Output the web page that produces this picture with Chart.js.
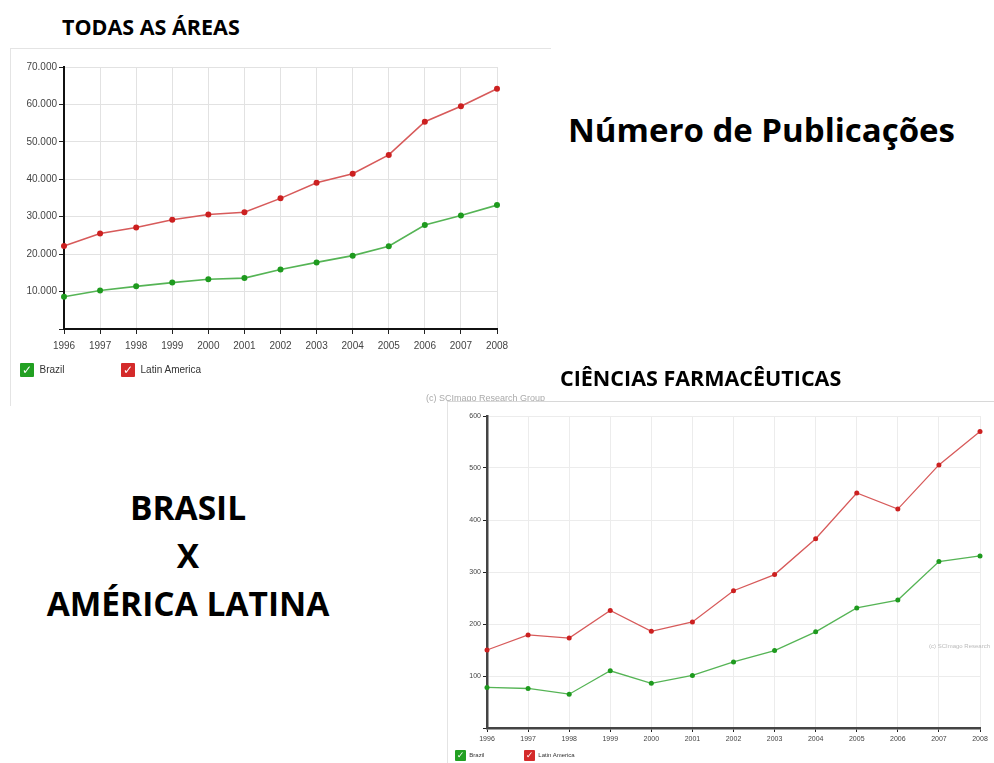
<!DOCTYPE html>
<html>
<head>
<meta charset="utf-8">
<script src="https://cdn.jsdelivr.net/npm/chart.js@4.4.0/dist/chart.umd.min.js"></script>
<style>
  body { margin: 0; width: 994px; height: 763px; background: #fff; position: relative; overflow: hidden; font-family: "Open Sans", "Noto Sans", sans-serif; }
  .title { position: absolute; font-weight: bold; color: #000; white-space: nowrap; line-height: 1; }
  .box { position: absolute; background: #fff; }
  #box1 { left: 10px; top: 48px; width: 540px; height: 357px; border-top: 1px solid #e4e4e4; border-left: 1px solid #e4e4e4; }
  #box2 { left: 447px; top: 401px; width: 547px; height: 362px; border-top: 1px solid #d8d8d8; border-left: 1px solid #e4e4e4; }
  .legend { position: absolute; font-family: "Liberation Sans", Arial, sans-serif; color: #333; }
  .legend span.item { position: absolute; white-space: nowrap; }
  .chk { display: inline-block; text-align: center; color: #fff; font-family: "DejaVu Sans", sans-serif; font-weight: bold; vertical-align: middle; border-radius: 1px; }
  .copy { position: absolute; font-family: "Liberation Sans", Arial, sans-serif; color: #aaa; white-space: nowrap; }
</style>
</head>
<body>

<div class="title" style="left:62px; top:16px; font-size:21.5px;">TODAS AS ÁREAS</div>
<div class="title" style="left:568px; top:113px; font-size:33px;">Número de Publicações</div>
<div class="title" style="left:0; width:376px; text-align:center; top:483px; font-size:33.5px; line-height:48px;">BRASIL<br>X<br>AMÉRICA LATINA</div>

<div class="box" id="box1">
  <canvas id="chartAll"></canvas>
  <div class="legend" style="left:0; top:0; font-size:10px;">
    <span class="item" style="left:9px; top:314px;"><span class="chk" style="width:14px;height:14px;line-height:14px;font-size:12px;background:#22a022;">✓</span>&nbsp;&nbsp;Brazil</span>
    <span class="item" style="left:110px; top:314px;"><span class="chk" style="width:14px;height:14px;line-height:14px;font-size:12px;background:#d42a2a;">✓</span>&nbsp;&nbsp;Latin America</span>
  </div>
  <div class="copy" style="left:415px; top:344px; font-size:9px;">(c) SCImago Research Group</div>
</div>

<div class="title" style="left:560px; top:367px; font-size:21.5px;">CIÊNCIAS FARMACÊUTICAS</div>

<div class="box" id="box2">
  <canvas id="chartFarma"></canvas>
  <div class="copy" style="left:481px; top:241px; font-size:6px; color:#bbb;">(c) SCImago Research</div>
  <div class="legend" style="left:0; top:0; font-size:6px;">
    <span class="item" style="left:7px; top:348px;"><span class="chk" style="width:11px;height:11px;line-height:11px;font-size:9px;background:#22a022;">✓</span>&nbsp;&nbsp;Brazil</span>
    <span class="item" style="left:76px; top:348px;"><span class="chk" style="width:11px;height:11px;line-height:11px;font-size:9px;background:#d42a2a;">✓</span>&nbsp;&nbsp;Latin America</span>
  </div>
</div>

<script>
// anos
var years = ['1996', '1997', '1998', '1999', '2000', '2001', '2002', '2003', '2004', '2005', '2006', '2007', '2008'];

// todas as areas
var brazilAll = [8600, 10300, 11400, 12400, 13300, 13600, 15900, 17800, 19600, 22100, 27800, 30300, 33100];
var latamAll = [22200, 25500, 27100, 29200, 30600, 31200, 34900, 39100, 41500, 46500, 55400, 59500, 64200];

// ciencias farmaceuticas
var brazilFarma = [78, 76, 65, 110, 86, 101, 127, 149, 185, 231, 246, 320, 331];
var latamFarma = [150, 179, 173, 226, 186, 204, 264, 295, 364, 452, 421, 506, 570];

Chart.defaults.font.family = '"Liberation Sans", Arial, sans-serif';
Chart.defaults.animation = false;

function makeChart(id, w, h, brazil, latam, opts) {
    var cv = document.getElementById(id);
    cv.width = w; cv.height = h;
    cv.style.width = w + 'px'; cv.style.height = h + 'px';
    return new Chart(cv.getContext('2d'), {
        type: 'line',
        data: {
            labels: years,
            datasets: [{
                label: 'Brazil',
                data: brazil,
                borderColor: '#55b455',
                backgroundColor: '#1e9a1e',
                pointBackgroundColor: '#1e9a1e',
                pointBorderWidth: 0,
                pointRadius: opts.r,
                borderWidth: opts.lw,
                tension: 0
            }, {
                label: 'Latin America',
                data: latam,
                borderColor: '#d75a5a',
                backgroundColor: '#cc2020',
                pointBackgroundColor: '#cc2020',
                pointBorderWidth: 0,
                pointRadius: opts.r,
                borderWidth: opts.lw,
                tension: 0
            }]
        },
        options: {
            responsive: false,
            layout: { padding: opts.pad },
            plugins: { legend: { display: false }, tooltip: { enabled: false } },
            scales: {
                x: {
                    offset: false,
                    grid: { color: opts.grid, tickColor: '#222', tickLength: opts.tick },
                    border: { color: opts.axis, width: opts.aw },
                    ticks: { color: '#444', font: { size: opts.fs }, padding: opts.xpad, maxRotation: 0, autoSkip: false },
                    afterFit: function(s) { s.height = opts.xh; }
                },
                y: {
                    min: 0,
                    max: opts.max,
                    grid: { color: opts.grid, tickColor: '#222', tickLength: opts.tick },
                    border: { color: opts.axis, width: opts.aw },
                    ticks: {
                        stepSize: opts.step,
                        color: '#444',
                        font: { size: opts.fs },
                        padding: 2,
                        callback: function(v) {
                            if (v === 0) return '';
                            return opts.dots ? v.toString().replace(/\B(?=(\d{3})+(?!\d))/g, '.') : v;
                        }
                    },
                    afterFit: function(s) { s.width = opts.yw; }
                }
            }
        }
    });
}

makeChart('chartAll', 540, 357, brazilAll, latamAll, {
    r: 3, lw: 1.6, max: 70000, step: 10000, dots: true,
    pad: { left: 0, right: 54, top: 18, bottom: 47 },
    grid: '#e2e2e2', axis: '#111', aw: 2, tick: 5, fs: 10, xpad: 6, xh: 30, yw: 53
});

makeChart('chartFarma', 547, 362, brazilFarma, latamFarma, {
    r: 2.5, lw: 1.3, max: 600, step: 100, dots: false,
    pad: { left: 0, right: 15, top: 14, bottom: 12 },
    grid: '#ececec', axis: '#444', aw: 2.5, tick: 4, fs: 7, xpad: 3, xh: 24, yw: 39
});
</script>
</body>
</html>
